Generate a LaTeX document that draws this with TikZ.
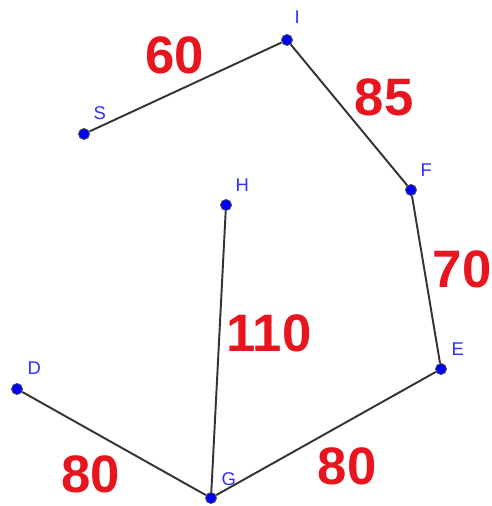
\documentclass[tikz,border=0pt]{standalone}
\usepackage{fontspec}
\setmainfont{Liberation Sans}
\usepackage{tikz}
\usetikzlibrary{positioning}
\definecolor{ptBlue}{HTML}{0000FF}
\definecolor{lblBlue}{HTML}{2F2FFF}
\definecolor{numRed}{HTML}{E8141E}
\definecolor{segGray}{HTML}{333333}
\tikzset{
  pt/.style={circle,fill=ptBlue,draw=black!70,line width=0.5pt,inner sep=0pt,minimum size=0.22cm},
  lbl/.style={text=lblBlue,font=\fontsize{10.5}{10.5}\selectfont,inner sep=0pt},
  num/.style={text=numRed,font=\fontsize{30}{30}\selectfont\bfseries,inner sep=0pt},
  seg/.style={segGray,line width=1.1pt}
}
\begin{document}
\begin{tikzpicture}[x=0.02cm,y=-0.02cm]
\useasboundingbox (0,0) rectangle (492,506);
% points
\node[pt] (S) at (84,134) {};
\node[pt] (I) at (287,40) {};
\node[pt] (F) at (411,190) {};
\node[pt] (E) at (441,369) {};
\node[pt] (G) at (211,498) {};
\node[pt] (D) at (17,389) {};
\node[pt] (H) at (226,205) {};
% segments
\draw[seg] (S)--(I);
\draw[seg] (I)--(F);
\draw[seg] (F)--(E);
\draw[seg] (E)--(G);
\draw[seg] (D)--(G);
\draw[seg] (H)--(G);
% point letters
\node[lbl,above right=0.2cm and 0.1cm of S] (lS) {S};
\node[lbl,above right=0.24cm and 0.06cm of I] (lI) {I};
\node[lbl,above right=0.18cm and 0.1cm of F] (lF) {F};
\node[lbl,above right=0.18cm and 0.12cm of E] (lE) {E};
\node[lbl,above right=0.16cm and 0.12cm of G] (lG) {G};
\node[lbl,above right=0.2cm and 0.12cm of D] (lD) {D};
\node[lbl,above right=0.18cm and 0.1cm of H] (lH) {H};
% lengths
\node[num] (nSI) at (175,55) {60};
\node[num] (nIF) at (384,97) {85};
\node[num] (nFE) at (462,269) {70};
\node[num] (nHG) at (269,333) {110};
\node[num] (nDG) at (91,474) {80};
\node[num] (nEG) at (347,466) {80};
\end{tikzpicture}
\end{document}
